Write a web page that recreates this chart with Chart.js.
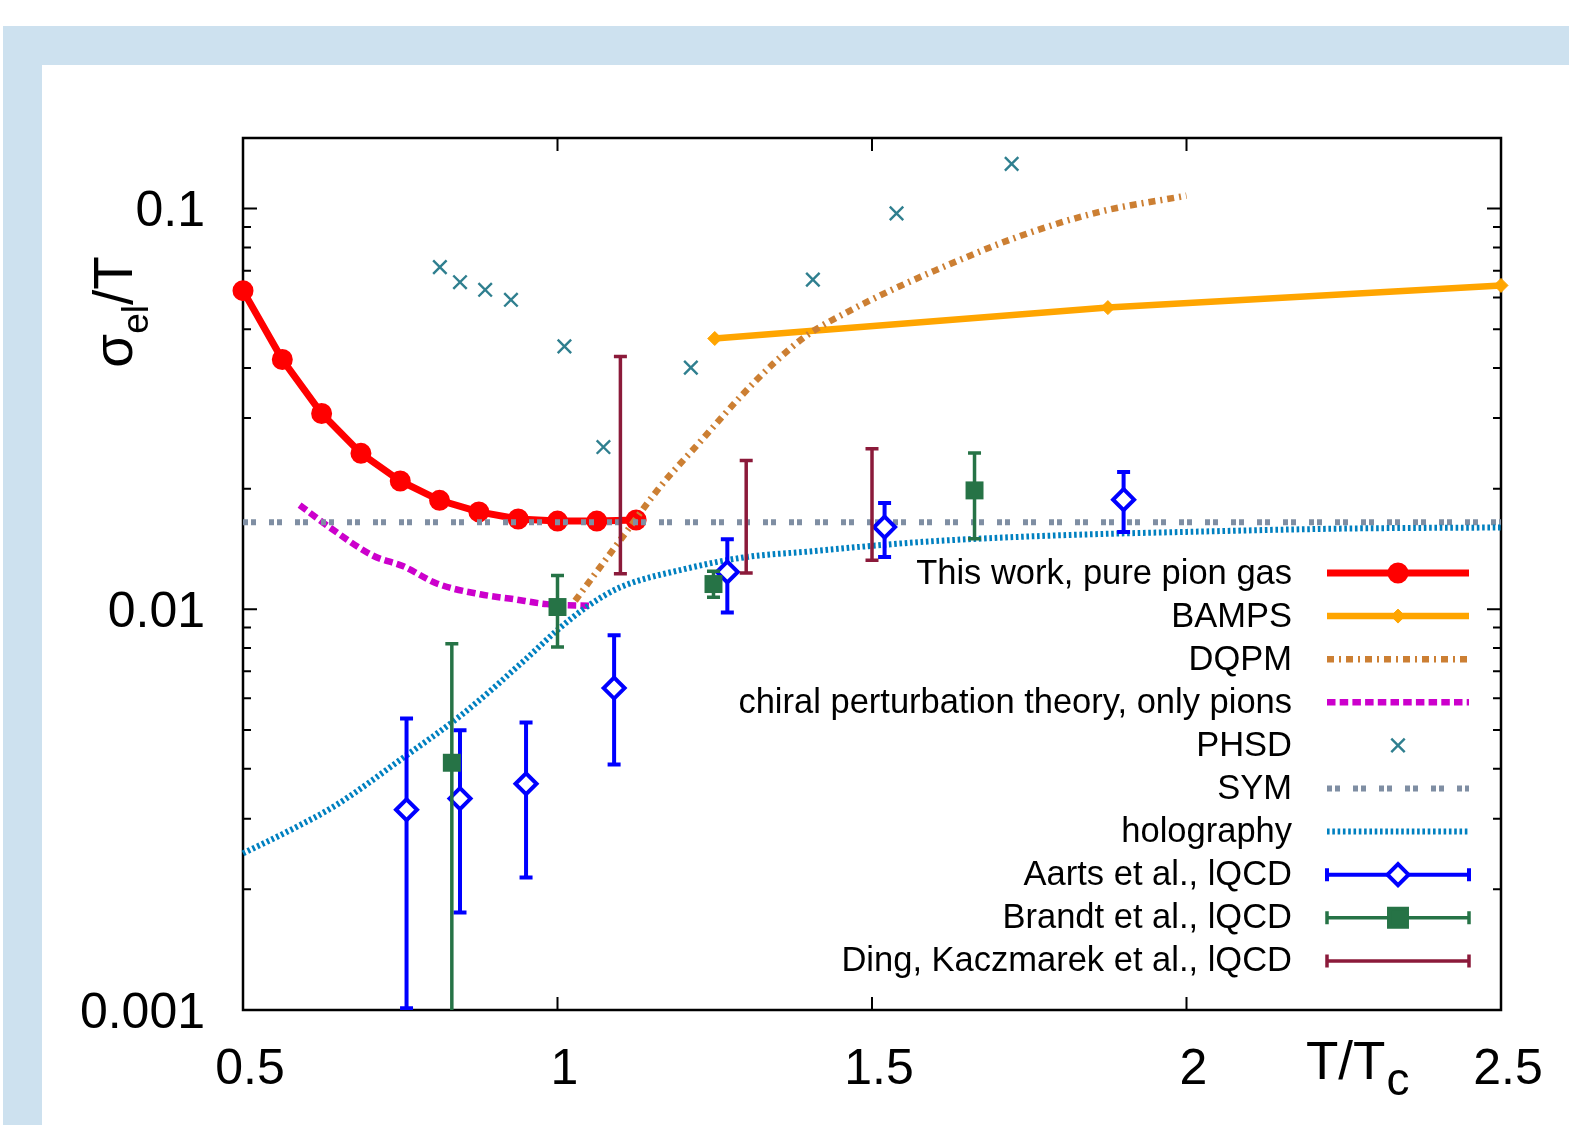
<!DOCTYPE html>
<html>
<head>
<meta charset="utf-8">
<title>sigma_el / T</title>
<script src="https://cdn.jsdelivr.net/npm/chart.js@4.4.0/dist/chart.umd.min.js"></script>
<style>
  html, body { margin: 0; padding: 0; background: #fff; }
  canvas { display: block; }
</style>
</head>
<body>
<canvas id="chart-sigma" width="1569" height="1125"></canvas>
<script>
  "use strict";

  // Data - Start
  // --------------------------------------------------
  var xTickValues = [0.5, 1, 1.5, 2, 2.5];
  var xTickLabels = ["0.5", "1", "1.5", "2", "2.5"];
  var yTickValues = [0.001, 0.01, 0.1];
  var yTickLabels = ["0.001", "0.01", "0.1"];

  var legendLabels = [
    "This work, pure pion gas",
    "BAMPS",
    "DQPM",
    "chiral perturbation theory, only pions",
    "PHSD",
    "SYM",
    "holography",
    "Aarts et al., lQCD",
    "Brandt et al., lQCD",
    "Ding, Kaczmarek et al., lQCD"
  ];

  var pionT = [0.5, 0.5625, 0.625, 0.6875, 0.75, 0.8125, 0.875, 0.9375, 1.0, 1.0625, 1.125];
  var pionSigma = [0.0624, 0.0420, 0.0308, 0.0245, 0.0209, 0.0187, 0.0175, 0.0168, 0.0166, 0.0166, 0.0167];

  var bampsT = [1.25, 1.875, 2.5];
  var bampsSigma = [0.0474, 0.0566, 0.0643];

  var dqpmT = [1.028, 1.1, 1.163, 1.227, 1.29, 1.343, 1.396, 1.46, 1.53, 1.6, 1.73, 1.86, 2.0];
  var dqpmSigma = [0.0105, 0.0149, 0.0202, 0.0262, 0.0338, 0.0410, 0.0482, 0.0551, 0.0625, 0.0700, 0.0848, 0.0980, 0.1077];

  var chptT = [0.59, 0.638, 0.707, 0.755, 0.808, 0.877, 0.93, 0.983, 1.052];
  var chptSigma = [0.0182, 0.0160, 0.0136, 0.0128, 0.0116, 0.0109, 0.0106, 0.0103, 0.0102];

  var phsdT = [0.813, 0.845, 0.885, 0.926, 1.011, 1.073, 1.212, 1.406, 1.539, 1.722];
  var phsdSigma = [0.0714, 0.0655, 0.0627, 0.0592, 0.0453, 0.0254, 0.0401, 0.0665, 0.0973, 0.1293];

  var symT = [0.5, 2.5];
  var symSigma = [0.0165, 0.0165];

  var holoT = [0.5, 0.575, 0.65, 0.75, 0.85, 0.95, 1.0, 1.05, 1.1, 1.2, 1.3, 1.4, 1.5, 1.6, 1.8, 2.0, 2.25, 2.5];
  var holoSigma = [0.00246, 0.00281, 0.00326, 0.00421, 0.00549, 0.00752, 0.00888, 0.01023, 0.01135, 0.01258, 0.0135, 0.01394, 0.0144, 0.0148, 0.0153, 0.0156, 0.0159, 0.0160];

  var aartsT = [0.76, 0.845, 0.95, 1.09, 1.27, 1.52, 1.90];
  var aartsSigma = [0.00316, 0.00337, 0.00367, 0.00636, 0.01239, 0.01604, 0.01877];
  var aartsLo = [0.00101, 0.00175, 0.00214, 0.00410, 0.00981, 0.0135, 0.01559];
  var aartsHi = [0.00534, 0.00499, 0.00522, 0.00861, 0.01495, 0.01841, 0.0220];

  var brandtT = [0.832, 1.0, 1.248, 1.663];
  var brandtSigma = [0.00414, 0.01013, 0.01156, 0.0198];
  var brandtLo = [0.0005, 0.00805, 0.01072, 0.0150];
  var brandtHi = [0.0082, 0.01215, 0.01245, 0.02454];

  var dingT = [1.1, 1.3, 1.5];
  var dingSigma = [0.0229, 0.0170, 0.0183];
  var dingLo = [0.01227, 0.01232, 0.01325];
  var dingHi = [0.04275, 0.02352, 0.02516];
  // Data - End
  // --------------------------------------------------

  var FONT = "'Liberation Sans', Arial, Helvetica, sans-serif";

  function pts(xs, ys) {
    return xs.map(function (x, i) { return {x: x, y: ys[i]}; });
  }

  // Datasets - Start
  // --------------------------------------------------
  var datasets = [
    {
      data: pts(pionT, pionSigma),
      borderColor: "#ff0000", backgroundColor: "#ff0000", borderWidth: 7,
      pointStyle: "circle", pointRadius: 9.5, pointBorderWidth: 2
    },
    {
      data: pts(bampsT, bampsSigma),
      borderColor: "#ffa500", backgroundColor: "#ffa500", borderWidth: 6.5,
      pointStyle: "rectRot", pointRadius: 7, pointBorderWidth: 1
    },
    {
      data: pts(dqpmT, dqpmSigma),
      borderColor: "#cc7f33", borderWidth: 6.5, borderDash: [7, 5, 2, 5],
      pointRadius: 0, cubicInterpolationMode: "monotone"
    },
    {
      data: pts(chptT, chptSigma),
      borderColor: "#cc00cc", borderWidth: 6.5, borderDash: [8.5, 4.2],
      pointRadius: 0, cubicInterpolationMode: "monotone"
    },
    {
      data: pts(phsdT, phsdSigma),
      showLine: false,
      borderColor: "#2f7f8f", backgroundColor: "#2f7f8f",
      pointStyle: "crossRot", pointRadius: 9.5, pointBorderWidth: 2.4
    },
    {
      data: pts(symT, symSigma),
      borderColor: "#7f8ea3", borderWidth: 6, borderDash: [5, 3, 5, 13],
      pointRadius: 0
    },
    {
      data: pts(holoT, holoSigma),
      borderColor: "#0080c0", borderWidth: 6, borderDash: [2.6, 2.7],
      pointRadius: 0, cubicInterpolationMode: "monotone"
    },
    {
      data: pts(aartsT, aartsSigma),
      showLine: false,
      borderColor: "#0000ff", backgroundColor: "#ffffff",
      pointStyle: "rectRot", pointRadius: 10.5, pointBorderWidth: 4,
      errLo: aartsLo, errHi: aartsHi, errWidth: 4
    },
    {
      data: pts(brandtT, brandtSigma),
      showLine: false,
      borderColor: "#267346", backgroundColor: "#267346",
      pointStyle: "rect", pointRadius: 12.7, pointBorderWidth: 0,
      errLo: brandtLo, errHi: brandtHi, errWidth: 3.5
    },
    {
      data: pts(dingT, dingSigma),
      showLine: false,
      borderColor: "#8b1a3a", backgroundColor: "#8b1a3a",
      pointRadius: 0,
      errLo: dingLo, errHi: dingHi, errWidth: 3.5
    }
  ];
  datasets.forEach(function (ds, i) {
    ds.label = legendLabels[i];
    ds.order = datasets.length - i;
    ds.clip = false;
    ds.borderCapStyle = "butt";
    if (!ds.backgroundColor) ds.backgroundColor = ds.borderColor;
  });
  // Datasets - End
  // --------------------------------------------------

  // Background frame - Start
  // --------------------------------------------------
  var pageBackground = {
    id: "pageBackground",
    beforeDraw: function (chart) {
      var ctx = chart.ctx;
      ctx.save();
      ctx.fillStyle = "#ffffff";
      ctx.fillRect(0, 0, chart.width, chart.height);
      ctx.fillStyle = "#cde1ef";
      ctx.fillRect(3, 26, chart.width - 3, 39);
      ctx.fillRect(3, 26, 39, chart.height - 26);
      ctx.restore();
    }
  };
  // Background frame - End
  // --------------------------------------------------

  // Axes box and inward ticks - Start
  // --------------------------------------------------
  var boxTicks = {
    id: "boxTicks",
    beforeDatasetsDraw: function (chart) {
      var ctx = chart.ctx, a = chart.chartArea;
      var xs = chart.scales.x, ys = chart.scales.y;
      ctx.save();
      ctx.strokeStyle = "#000";
      ctx.lineWidth = 2;
      ctx.beginPath();
      xTickValues.forEach(function (v) {
        var p = xs.getPixelForValue(v);
        ctx.moveTo(p, a.bottom); ctx.lineTo(p, a.bottom - 13);
        ctx.moveTo(p, a.top); ctx.lineTo(p, a.top + 13);
      });
      for (var e = -3; e <= -1; e++) {
        for (var k = 1; k <= 9; k++) {
          var v = k * Math.pow(10, e);
          if (v > ys.max * 1.0001) continue;
          var len = k === 1 ? 14 : 8;
          var p = ys.getPixelForValue(v);
          ctx.moveTo(a.left, p); ctx.lineTo(a.left + len, p);
          ctx.moveTo(a.right, p); ctx.lineTo(a.right - len, p);
        }
      }
      ctx.stroke();
      ctx.lineWidth = 2.5;
      ctx.strokeRect(a.left, a.top, a.right - a.left, a.bottom - a.top);
      ctx.restore();
    }
  };
  // Axes box and inward ticks - End
  // --------------------------------------------------

  // Error bars - Start
  // --------------------------------------------------
  var errorBars = {
    id: "errorBars",
    beforeDatasetDraw: function (chart, args) {
      var ds = chart.data.datasets[args.index];
      if (!ds.errLo) return;
      var ctx = chart.ctx, a = chart.chartArea;
      var xs = chart.scales.x, ys = chart.scales.y;
      ctx.save();
      ctx.beginPath();
      ctx.rect(a.left, a.top - 2, a.right - a.left, a.bottom - a.top + 2);
      ctx.clip();
      ctx.strokeStyle = ds.borderColor;
      ctx.lineWidth = ds.errWidth;
      ctx.lineCap = "butt";
      ds.data.forEach(function (d, i) {
        var px = xs.getPixelForValue(d.x);
        var lo = ys.getPixelForValue(ds.errLo[i]);
        var hi = ys.getPixelForValue(ds.errHi[i]);
        ctx.beginPath();
        ctx.moveTo(px, lo); ctx.lineTo(px, hi);
        ctx.moveTo(px - 6.5, hi); ctx.lineTo(px + 6.5, hi);
        if (lo <= a.bottom) { ctx.moveTo(px - 6.5, lo); ctx.lineTo(px + 6.5, lo); }
        ctx.stroke();
      });
      ctx.restore();
    }
  };
  // Error bars - End
  // --------------------------------------------------

  function drawMarker(ctx, ds, x, y) {
    var r = ds.pointRadius, style = ds.pointStyle;
    if (!r) return;
    ctx.save();
    ctx.fillStyle = ds.backgroundColor;
    ctx.strokeStyle = ds.borderColor;
    ctx.lineWidth = ds.pointBorderWidth || 0;
    ctx.setLineDash([]);
    ctx.beginPath();
    if (style === "circle") {
      ctx.arc(x, y, r, 0, 2 * Math.PI);
    } else if (style === "rectRot") {
      ctx.moveTo(x - r, y); ctx.lineTo(x, y - r); ctx.lineTo(x + r, y); ctx.lineTo(x, y + r); ctx.closePath();
    } else if (style === "rect") {
      var h = r * Math.SQRT1_2;
      ctx.rect(x - h, y - h, 2 * h, 2 * h);
    } else if (style === "crossRot") {
      var c = r * Math.SQRT1_2;
      ctx.moveTo(x - c, y - c); ctx.lineTo(x + c, y + c);
      ctx.moveTo(x - c, y + c); ctx.lineTo(x + c, y - c);
      ctx.stroke();
      ctx.restore();
      return;
    }
    ctx.fill();
    if (ctx.lineWidth > 0) ctx.stroke();
    ctx.restore();
  }

  // Legend, axis titles - Start
  // --------------------------------------------------
  var legendAndTitles = {
    id: "legendAndTitles",
    afterDraw: function (chart) {
      var ctx = chart.ctx;
      ctx.save();
      ctx.font = "34.5px " + FONT;
      ctx.textAlign = "right";
      ctx.textBaseline = "middle";
      chart.data.datasets.forEach(function (ds, i) {
        var y = 573 + i * 43.1;
        var x0 = 1327, x1 = 1469, xm = 1398;
        ctx.fillStyle = "#000";
        ctx.fillText(ds.label, 1292, y + 1);
        if (ds.showLine !== false || ds.errLo) {
          ctx.save();
          ctx.strokeStyle = ds.borderColor;
          ctx.lineWidth = ds.errLo ? ds.errWidth : ds.borderWidth;
          ctx.setLineDash(ds.borderDash || []);
          ctx.beginPath();
          ctx.moveTo(x0, y); ctx.lineTo(x1, y);
          ctx.stroke();
          if (ds.errLo) {
            ctx.setLineDash([]);
            ctx.beginPath();
            ctx.moveTo(x0, y - 6.5); ctx.lineTo(x0, y + 6.5);
            ctx.moveTo(x1, y - 6.5); ctx.lineTo(x1, y + 6.5);
            ctx.stroke();
          }
          ctx.restore();
        }
        drawMarker(ctx, ds, xm, y);
      });

      // y title: sigma_el / T
      ctx.fillStyle = "#000";
      ctx.textAlign = "left";
      ctx.textBaseline = "alphabetic";
      ctx.save();
      ctx.translate(132, 312);
      ctx.rotate(-Math.PI / 2);
      var big = "55px " + FONT, small = "37px " + FONT;
      ctx.font = big;
      var w1 = ctx.measureText("σ").width, w3 = ctx.measureText("/T").width;
      ctx.font = small;
      var w2 = ctx.measureText("el").width;
      var sx = -(w1 + w2 + w3) / 2;
      ctx.font = big; ctx.fillText("σ", sx, 0);
      ctx.font = small; ctx.fillText("el", sx + w1, 16);
      ctx.font = big; ctx.fillText("/T", sx + w1 + w2, 0);
      ctx.restore();

      // x title: T/T_c
      ctx.font = "53px " + FONT;
      ctx.fillText("T/T", 1306, 1079);
      var wt = ctx.measureText("T/T").width;
      ctx.font = "46px " + FONT;
      ctx.fillText("c", 1306 + wt + 1, 1095);
      ctx.restore();
    }
  };
  // Legend, axis titles - End
  // --------------------------------------------------

  // Chart - Start
  // --------------------------------------------------
  var ctxSigma = document.getElementById("chart-sigma").getContext("2d");
  var sigmaChart = new Chart(ctxSigma, {
    type: "line",
    data: { datasets: datasets },
    plugins: [pageBackground, boxTicks, errorBars, legendAndTitles],
    options: {
      responsive: false,
      animation: false,
      devicePixelRatio: 1,
      layout: { padding: { left: 0, top: 138, right: 68, bottom: 0 } },
      plugins: {
        legend: { display: false },
        tooltip: { enabled: false }
      },
      scales: {
        x: {
          type: "linear",
          min: 0.5,
          max: 2.5,
          afterBuildTicks: function (s) {
            s.ticks = xTickValues.map(function (v) { return {value: v}; });
          },
          afterFit: function (s) { s.height = 115; },
          grid: { display: false, drawTicks: false },
          border: { display: false },
          ticks: {
            autoSkip: false,
            maxRotation: 0,
            padding: 30,
            labelOffset: 7,
            color: "#000",
            font: { size: 50, family: FONT },
            callback: function (v, i) { return xTickLabels[i]; }
          }
        },
        y: {
          type: "logarithmic",
          min: 0.001,
          max: 0.15,
          afterBuildTicks: function (s) {
            s.ticks = yTickValues.map(function (v) { return {value: v}; });
          },
          afterFit: function (s) { s.width = 243; },
          grid: { display: false, drawTicks: false },
          border: { display: false },
          ticks: {
            autoSkip: false,
            padding: 38,
            labelOffset: 4,
            color: "#000",
            font: { size: 50, family: FONT },
            callback: function (v, i) { return yTickLabels[i]; }
          }
        }
      }
    }
  });
  // Chart - End
  // --------------------------------------------------
</script>
</body>
</html>
